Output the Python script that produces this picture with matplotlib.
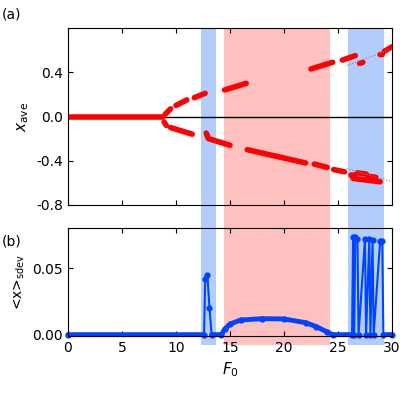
import numpy as np
import matplotlib
matplotlib.use("Agg")
import matplotlib.pyplot as plt

nan = np.nan
bands = [(12.3, 13.7, '#b3cdfa'), (14.4, 24.3, '#ffc0c0'), (25.9, 29.3, '#b3cdfa')]

zero_F = [0, 8.8]
zero_x = [0, 0]
up_F = [9.0, 9.5, nan, 10.0, 11.0, nan, 11.7, 12.7, nan, 14.5, 16.5, nan, 22.5, 24.5, nan, 25.4, 26.6, nan, 27.0, 27.3, nan, 28.9, 29.1, nan, 29.3, 30.0]
up_x = [0.02, 0.07, nan, 0.10, 0.15, nan, 0.17, 0.21, nan, 0.24, 0.30, nan, 0.43, 0.49, nan, 0.51, 0.55, nan, 0.48, 0.49, nan, 0.56, 0.56, nan, 0.59, 0.63]
lo_F = [8.9, 9.1, nan, 9.5, 11.5, nan, 12.8, 13.0, 15.0, nan, 16.6, 22.0, nan, 22.8, 24.0, nan, 24.6, 25.6, nan, 26.2, 26.5, nan, 26.8, 27.6, nan, 27.8, 28.5, nan, 26.4, 28.9]
lo_x = [-0.05, -0.08, nan, -0.10, -0.16, nan, -0.15, -0.20, -0.26, nan, -0.30, -0.42, nan, -0.43, -0.46, nan, -0.48, -0.50, nan, -0.53, -0.53, nan, -0.51, -0.52, nan, -0.54, -0.55, nan, -0.56, -0.59]
dot1_F = [25.8, 30]; dot1_x = [0.46, 0.61]
dot2_F = [25.8, 30]; dot2_x = [-0.47, -0.59]

sd_F = [0, 12.6, 12.7, 12.9, 13.1, 13.3, 14.2, 14.5, 15, 16, 18, 20, 22, 23, 24, 24.5, 26.3,
        26.4, 26.5, 26.6, 26.8, 26.9, 27.5, 27.6, 27.9, 28.0, 28.2, 28.3, 28.9, 29.1, 29.2, 30]
sd_y = [0, 0, 0.042, 0.045, 0.02, 0, 0, 0.004, 0.008, 0.011, 0.012, 0.0118, 0.009, 0.006, 0.002, 0, 0,
        0.073, 0, 0.073, 0.072, 0, 0.072, 0, 0.072, 0, 0.071, 0, 0.070, 0.070, 0, 0]

fig = plt.figure(figsize=(4, 4), dpi=100)
L, R = 68/400, 392/400
bg = fig.add_axes([L, 1-345/400, R-L, (345-28)/400])
bg.set_xlim(0, 30); bg.axis('off')
for a, b, c in bands:
    bg.axvspan(a, b, color=c, lw=0)
ax1 = fig.add_axes([L, 1-205/400, R-L, (205-28)/400])
ax2 = fig.add_axes([L, 1-336/400, R-L, (336-228)/400])
for ax in (ax1, ax2):
    ax.patch.set_alpha(0)
    ax.set_xlim(0, 30)
    ax.tick_params(direction='in', top=True, right=True, labelsize=10)
    ax.set_xticks([0, 5, 10, 15, 20, 25, 30])

red = '#ff0000'
ax1.axhline(0, color='black', lw=1)
ax1.plot(zero_F, zero_x, color=red, lw=4, solid_capstyle='round')
ax1.plot(up_F, up_x, color=red, lw=4, solid_capstyle='round')
ax1.plot(lo_F, lo_x, color=red, lw=4, solid_capstyle='round')
ax1.plot(dot1_F, dot1_x, ':', color='gray', lw=0.8)
ax1.plot(dot2_F, dot2_x, ':', color='gray', lw=0.8)
ax1.set_ylim(-0.8, 0.8)
ax1.set_yticks([-0.8, -0.4, 0, 0.4])
ax1.set_yticklabels(['-0.8', '-0.4', '0.0', '0.4'])
ax1.set_xticklabels([])
ax1.set_ylabel(r'$x_{\rm ave}$', fontsize=11)

blue = '#0044ff'
ax2.plot(sd_F, sd_y, color=blue, lw=1.5, marker='o', ms=3.5, clip_on=False)
ax2.plot([0, 12.6, nan, 13.3, 14.2, 14.5, 15, 16, 18, 20, 22, 23, 24, 24.5, 26.3, nan, 29.2, 30],
         [0, 0, nan, 0, 0, 0.004, 0.008, 0.011, 0.012, 0.0118, 0.009, 0.006, 0.002, 0, 0, nan, 0, 0],
         color=blue, lw=3.5, solid_capstyle='round', clip_on=False)
ax2.set_ylim(-0.001, 0.08)
ax2.set_yticks([0, 0.05])
ax2.set_yticklabels(['0.00', '0.05'])
ax2.set_xlabel(r'$F_0$', fontsize=11)
ax2.set_ylabel(r'<x>$_{\rm sdev}$', fontsize=10)
fig.text(0.005, 1-18/400, '(a)', fontsize=10)
fig.text(0.005, 1-245/400, '(b)', fontsize=10)
fig.savefig('out.png', dpi=100)
